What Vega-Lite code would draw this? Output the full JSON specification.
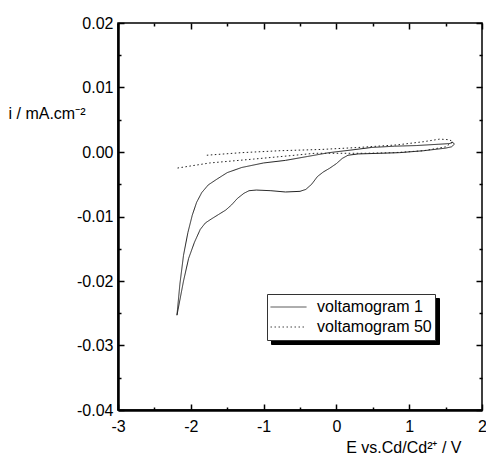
{
  "$schema": "https://vega.github.io/schema/vega-lite/v6.json",
  "width": 364,
  "height": 387,
  "autosize": {"type": "none"},
  "padding": {"left": 118, "top": 23, "right": 4, "bottom": 57},
  "background": "white",
  "config": {
    "view": {"stroke": "black", "strokeWidth": 1.5},
    "font": "Liberation Sans",
    "axis": {"labelFont": "Liberation Sans", "titleFont": "Liberation Sans", "labelColor": "black", "titleColor": "black", "tickColor": "black", "domainColor": "black", "grid": false, "labelFontSize": 16, "titleFontSize": 16, "titleFontWeight": "normal", "tickWidth": 1.5}
  },
  "datasets": {
    "cv": [
      {"series": "voltamogram 1", "n": 1, "E": 0.48, "i": 0.0007},
      {"series": "voltamogram 1", "n": 2, "E": 0.8, "i": 0.0009},
      {"series": "voltamogram 1", "n": 3, "E": 1.1, "i": 0.0010},
      {"series": "voltamogram 1", "n": 4, "E": 1.4, "i": 0.0012},
      {"series": "voltamogram 1", "n": 5, "E": 1.55, "i": 0.0013},
      {"series": "voltamogram 1", "n": 6, "E": 1.6, "i": 0.0015},
      {"series": "voltamogram 1", "n": 7, "E": 1.62, "i": 0.0012},
      {"series": "voltamogram 1", "n": 8, "E": 1.58, "i": 0.0008},
      {"series": "voltamogram 1", "n": 9, "E": 1.5, "i": 0.0006},
      {"series": "voltamogram 1", "n": 10, "E": 1.2, "i": 0.0002},
      {"series": "voltamogram 1", "n": 11, "E": 0.87, "i": -0.0001},
      {"series": "voltamogram 1", "n": 12, "E": 0.6, "i": -0.0002},
      {"series": "voltamogram 1", "n": 13, "E": 0.3, "i": -0.0003},
      {"series": "voltamogram 1", "n": 14, "E": 0.16, "i": -0.0005},
      {"series": "voltamogram 1", "n": 15, "E": 0.08, "i": -0.0010},
      {"series": "voltamogram 1", "n": 16, "E": 0.0, "i": -0.0018},
      {"series": "voltamogram 1", "n": 17, "E": -0.09, "i": -0.0025},
      {"series": "voltamogram 1", "n": 18, "E": -0.18, "i": -0.0031},
      {"series": "voltamogram 1", "n": 19, "E": -0.26, "i": -0.0038},
      {"series": "voltamogram 1", "n": 20, "E": -0.34, "i": -0.0050},
      {"series": "voltamogram 1", "n": 21, "E": -0.42, "i": -0.0058},
      {"series": "voltamogram 1", "n": 22, "E": -0.5, "i": -0.0061},
      {"series": "voltamogram 1", "n": 23, "E": -0.7, "i": -0.0062},
      {"series": "voltamogram 1", "n": 24, "E": -0.9, "i": -0.0060},
      {"series": "voltamogram 1", "n": 25, "E": -1.1, "i": -0.0059},
      {"series": "voltamogram 1", "n": 26, "E": -1.2, "i": -0.0060},
      {"series": "voltamogram 1", "n": 27, "E": -1.27, "i": -0.0064},
      {"series": "voltamogram 1", "n": 28, "E": -1.36, "i": -0.0072},
      {"series": "voltamogram 1", "n": 29, "E": -1.44, "i": -0.0082},
      {"series": "voltamogram 1", "n": 30, "E": -1.52, "i": -0.0090},
      {"series": "voltamogram 1", "n": 31, "E": -1.62, "i": -0.0097},
      {"series": "voltamogram 1", "n": 32, "E": -1.72, "i": -0.0104},
      {"series": "voltamogram 1", "n": 33, "E": -1.8, "i": -0.0110},
      {"series": "voltamogram 1", "n": 34, "E": -1.87, "i": -0.0120},
      {"series": "voltamogram 1", "n": 35, "E": -1.95, "i": -0.0140},
      {"series": "voltamogram 1", "n": 36, "E": -2.03, "i": -0.0165},
      {"series": "voltamogram 1", "n": 37, "E": -2.1, "i": -0.0200},
      {"series": "voltamogram 1", "n": 38, "E": -2.19, "i": -0.0253},
      {"series": "voltamogram 1", "n": 39, "E": -2.15, "i": -0.0205},
      {"series": "voltamogram 1", "n": 40, "E": -2.1, "i": -0.0160},
      {"series": "voltamogram 1", "n": 41, "E": -2.04, "i": -0.0125},
      {"series": "voltamogram 1", "n": 42, "E": -1.98, "i": -0.0098},
      {"series": "voltamogram 1", "n": 43, "E": -1.92, "i": -0.0078},
      {"series": "voltamogram 1", "n": 44, "E": -1.85, "i": -0.0063},
      {"series": "voltamogram 1", "n": 45, "E": -1.76, "i": -0.0051},
      {"series": "voltamogram 1", "n": 46, "E": -1.64, "i": -0.0042},
      {"series": "voltamogram 1", "n": 47, "E": -1.5, "i": -0.0032},
      {"series": "voltamogram 1", "n": 48, "E": -1.3, "i": -0.0024},
      {"series": "voltamogram 1", "n": 49, "E": -1.0, "i": -0.0017},
      {"series": "voltamogram 1", "n": 50, "E": -0.7, "i": -0.0013},
      {"series": "voltamogram 1", "n": 51, "E": -0.4, "i": -0.0007},
      {"series": "voltamogram 1", "n": 52, "E": -0.1, "i": -0.0001},
      {"series": "voltamogram 1", "n": 53, "E": 0.2, "i": 0.0003},
      {"series": "voltamogram 1", "n": 54, "E": 0.48, "i": 0.0007},
      {"series": "voltamogram 50", "n": 1, "E": -1.78, "i": -0.0005},
      {"series": "voltamogram 50", "n": 2, "E": -1.3, "i": -0.0001},
      {"series": "voltamogram 50", "n": 3, "E": -0.77, "i": 0.0002},
      {"series": "voltamogram 50", "n": 4, "E": -0.2, "i": 0.0004},
      {"series": "voltamogram 50", "n": 5, "E": 0.3, "i": 0.0007},
      {"series": "voltamogram 50", "n": 6, "E": 0.83, "i": 0.0011},
      {"series": "voltamogram 50", "n": 7, "E": 1.2, "i": 0.0016},
      {"series": "voltamogram 50", "n": 8, "E": 1.42, "i": 0.0020},
      {"series": "voltamogram 50", "n": 9, "E": 1.55, "i": 0.0019},
      {"series": "voltamogram 50", "n": 10, "E": 1.6, "i": 0.0016},
      {"series": "voltamogram 50", "n": 11, "E": 1.5, "i": 0.0008},
      {"series": "voltamogram 50", "n": 12, "E": 1.2, "i": 0.0002},
      {"series": "voltamogram 50", "n": 13, "E": 0.8, "i": -0.0001},
      {"series": "voltamogram 50", "n": 14, "E": 0.4, "i": -0.0002},
      {"series": "voltamogram 50", "n": 15, "E": -0.3, "i": -0.0002},
      {"series": "voltamogram 50", "n": 16, "E": -0.66, "i": -0.0006},
      {"series": "voltamogram 50", "n": 17, "E": -1.14, "i": -0.0011},
      {"series": "voltamogram 50", "n": 18, "E": -1.74, "i": -0.0017},
      {"series": "voltamogram 50", "n": 19, "E": -2.19, "i": -0.0025}
    ]
  },
  "data": {"name": "cv"},
  "resolve": {"axis": {"x": "independent", "y": "independent"}},
  "layer": [
    {
      "mark": {"type": "line", "strokeWidth": 1, "color": "#222222"},
      "encoding": {
        "x": {
          "field": "E", "type": "quantitative",
          "scale": {"domain": [-3, 2], "nice": false, "zero": false},
          "axis": {
            "orient": "bottom",
            "values": [-3, -2.5, -2, -1.5, -1, -0.5, 0, 0.5, 1, 1.5, 2],
            "labelExpr": "abs(datum.value - round(datum.value)) < 1e-6 ? replace(format(datum.value, 'd'), '\u2212', '-') : ''",
            "tickSize": {"condition": {"test": "abs(datum.value - round(datum.value)) < 1e-6", "value": -6}, "value": -3},
            "domainWidth": 2.5,
            "labelPadding": 14,
            "labelFlush": false,
            "labelOverlap": false,
            "title": "E vs.Cd/Cd²⁺ / V",
            "titleAnchor": "end",
            "titleAlign": "right",
            "titleX": 343,
            "titleY": 42,
            "titleBaseline": "alphabetic"
          }
        },
        "y": {
          "field": "i", "type": "quantitative",
          "scale": {"domain": [-0.04, 0.02], "nice": false, "zero": false},
          "axis": {
            "orient": "left",
            "values": [-0.04, -0.035, -0.03, -0.025, -0.02, -0.015, -0.01, -0.005, 0, 0.005, 0.01, 0.015, 0.02],
            "labelExpr": "abs(datum.value * 100 - round(datum.value * 100)) < 1e-6 ? replace(format(datum.value, '.2f'), '\u2212', '-') : ''",
            "tickSize": {"condition": {"test": "abs(datum.value * 100 - round(datum.value * 100)) < 1e-6", "value": -6}, "value": -3},
            "domainWidth": 2.5,
            "labelPadding": 11,
            "labelFlush": false,
            "labelOverlap": false,
            "title": "i / mA.cm⁻²",
            "titleAngle": 0,
            "titleAlign": "right",
            "titleBaseline": "alphabetic",
            "titleX": -33,
            "titleY": 95
          }
        },
        "order": {"field": "n", "type": "quantitative"},
        "strokeDash": {
          "field": "series", "type": "nominal",
          "scale": {"domain": ["voltamogram 1", "voltamogram 50"], "range": [[1, 0], [1.5, 2.5]]},
          "legend": {
            "title": null,
            "orient": "none",
            "legendX": 149,
            "legendY": 271,
            "strokeColor": "#333",
            "fillColor": "white",
            "padding": 3,
            "labelFont": "Liberation Sans",
            "labelFontSize": 16,
            "labelColor": "black",
            "symbolType": "M-1.8,0H1.8",
            "symbolSize": 400,
            "symbolOffset": 8,
            "symbolStrokeWidth": 1,
            "symbolStrokeColor": "#444",
            "symbolOpacity": 1,
            "labelOffset": 18,
            "rowPadding": 0,
            "clipHeight": 20,
            "zindex": 2
          }
        }
      }
    },
    {
      "transform": [{"calculate": "datum.series + ' '", "as": "legend_shadow"}],
      "mark": {"type": "line", "strokeOpacity": 0},
      "encoding": {
        "x": {
          "field": "E", "type": "quantitative",
          "axis": {
            "orient": "top",
            "values": [-3, -2.5, -2, -1.5, -1, -0.5, 0, 0.5, 1, 1.5, 2],
            "labels": false,
            "domain": false,
            "tickSize": {"condition": {"test": "abs(datum.value - round(datum.value)) < 1e-6", "value": -6}, "value": -3},
            "title": null
          }
        },
        "y": {
          "field": "i", "type": "quantitative",
          "axis": {
            "orient": "right",
            "values": [-0.04, -0.035, -0.03, -0.025, -0.02, -0.015, -0.01, -0.005, 0, 0.005, 0.01, 0.015, 0.02],
            "labels": false,
            "domain": false,
            "tickSize": {"condition": {"test": "abs(datum.value * 100 - round(datum.value * 100)) < 1e-6", "value": -6}, "value": -3},
            "title": null
          }
        },
        "order": {"field": "n", "type": "quantitative"},
        "stroke": {
          "field": "legend_shadow", "type": "nominal",
          "scale": {"domain": ["voltamogram 1 ", "voltamogram 50 "], "range": ["black", "black"]},
          "legend": {
            "title": null,
            "orient": "none",
            "legendX": 153,
            "legendY": 275,
            "strokeColor": "black",
            "fillColor": "black",
            "padding": 3,
            "labelExpr": "trim(datum.label)",
            "labelFont": "Liberation Sans",
            "labelFontSize": 16,
            "labelColor": "black",
            "labelOpacity": 0,
            "symbolType": "M-1.8,0H1.8",
            "symbolSize": 400,
            "symbolOffset": 8,
            "symbolStrokeWidth": 1,
            "symbolStrokeColor": "black",
            "labelOffset": 18,
            "rowPadding": 0,
            "clipHeight": 20,
            "zindex": 1
          }
        }
      }
    }
  ]
}
